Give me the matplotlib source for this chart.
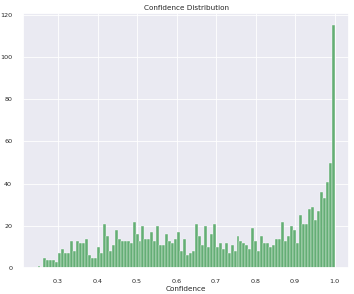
import numpy as np
import matplotlib
matplotlib.use("Agg")
import matplotlib.pyplot as plt
import seaborn as sns

sns.set_theme(style="darkgrid")
plt.rcParams['grid.linewidth'] = 0.6

# гистограмма уверенности: 100 бинов от ~0.248 до 1.0
conf_min = 0.248
conf_max = 1.0
counts = [
    1, 0, 5, 4, 4, 4, 3, 7, 9, 7, 7, 13, 8, 13, 12, 12, 14, 6, 5, 5,
    10, 7, 21, 15, 8, 11, 18, 14, 13, 13, 13, 12, 22, 16, 13, 20, 14, 14, 17, 13,
    20, 11, 11, 16, 13, 12, 14, 17, 8, 14, 6, 7, 8, 21, 15, 11, 20, 10, 16, 21,
    10, 12, 9, 12, 7, 11, 8, 15, 13, 12, 11, 9, 19, 13, 8, 15, 12, 12, 10, 11,
    14, 14, 22, 13, 15, 20, 18, 12, 25, 21, 21, 28, 29, 23, 27, 36, 33, 41, 50, 115,
]

edges = np.linspace(conf_min, conf_max, len(counts) + 1)
centers = (edges[:-1] + edges[1:]) / 2

fig = plt.figure(figsize=(3.54, 2.94), dpi=100)
ax = fig.add_axes([0.064, 0.088, 0.923, 0.867])
ax.hist(centers, bins=edges, weights=counts, color='#55a868', alpha=0.9,
        edgecolor='white', linewidth=0.3)
ax.set_title('Confidence Distribution', fontsize=5.2, pad=2.5)
ax.set_xlabel('Confidence', fontsize=5.2, labelpad=1.5)
ax.tick_params(labelsize=4.6, pad=1.5)
fig.savefig('out.png', dpi=100)
